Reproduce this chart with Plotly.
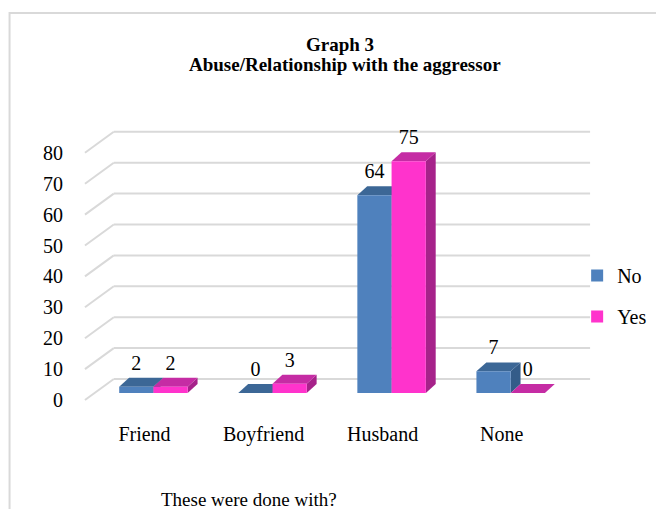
import plotly.graph_objects as go

# ---------------- data ----------------
categories = ["Friend", "Boyfriend", "Husband", "None"]
no_values = [2, 0, 64, 7]
yes_values = [2, 3, 75, 0]
series_names = ["No", "Yes"]
y_ticks = [0, 10, 20, 30, 40, 50, 60, 70, 80]
title_line1 = "Graph 3"
title_line2 = "Abuse/Relationship with the aggressor"
x_title = "These were done with?"

# ---------------- style / geometry ----------------
FONT = "Liberation Serif"
BAR_W = 0.2875          # width of each bar (category units)
DX = 0.083              # 3D depth, x direction
DY = 2.9                # 3D depth, y direction
FRONT_SHIFT = 2.27      # front floor edge below bar plane (y units)
BACK_SHIFT = 4.53       # back wall above bar plane (y units)
WALL_X0 = -0.333
WALL_X1 = 3.667
FRONT_X = -0.575
LABEL_OFF = 7.1

colors = {
    "No": {"front": "#4F81BD", "top": "#3C6796", "side": "#345C89"},
    "Yes": {"front": "#FF33CC", "top": "#C52CA4", "side": "#A6228A"},
}

OFF = 8  # page body margin of the html page
W, H = 664 - OFF, 509 - OFF
# plot area in page pixels
PX_L, PX_R, PX_T, PX_B = 80, 600, 110, 420
L, R, T, B = PX_L - OFF, W - (PX_R - OFF), PX_T - OFF, H - (PX_B - OFF)
PW, PH = PX_R - PX_L, PX_B - PX_T


def px_x(px):
    return (px - PX_L) / PW


def px_y(py):
    return (PX_B - py) / PH


xpos = list(range(len(categories)))

fig = go.Figure()

series = [("No", no_values, -BAR_W), ("Yes", yes_values, 0.0)]
for name, vals, off in series:
    fig.add_trace(go.Bar(
        x=xpos, y=vals, name=name, width=BAR_W, offset=off,
        marker=dict(color=colors[name]["front"], line=dict(width=0)),
        legendgroup=name, hoverinfo="skip",
    ))

# data labels
lab_x, lab_y, lab_t = [], [], []
for name, vals, off in series:
    for i, v in zip(xpos, vals):
        lab_x.append(i + off + BAR_W / 2)
        lab_y.append(v + LABEL_OFF)
        lab_t.append(str(v))
fig.add_trace(go.Scatter(
    x=lab_x, y=lab_y, text=lab_t, mode="text", showlegend=False,
    textfont=dict(family=FONT, size=20, color="#000000"), hoverinfo="skip",
))

shapes = []
grid_line = dict(color="#D9D9D9", width=2)
for v in y_ticks:
    shapes.append(dict(type="line", xref="x", yref="y", layer="below",
                       x0=WALL_X0, x1=WALL_X1, y0=v + BACK_SHIFT, y1=v + BACK_SHIFT,
                       line=grid_line))
    shapes.append(dict(type="line", xref="x", yref="y", layer="below",
                       x0=FRONT_X, x1=WALL_X0, y0=v - FRONT_SHIFT, y1=v + BACK_SHIFT,
                       line=grid_line))

# 3D faces of the bars
for name, vals, off in series:
    for i, v in zip(xpos, vals):
        xl = i + off
        xr = xl + BAR_W
        top = (f"M{xl},{v} L{xr},{v} L{xr + DX},{v + DY} L{xl + DX},{v + DY} Z")
        side = (f"M{xr},0 L{xr},{v} L{xr + DX},{v + DY} L{xr + DX},{DY} Z")
        if v > 0:
            shapes.append(dict(type="path", path=side, xref="x", yref="y", layer="below",
                               fillcolor=colors[name]["side"], line=dict(width=0)))
        shapes.append(dict(type="path", path=top, xref="x", yref="y", layer="below",
                           fillcolor=colors[name]["top"], line=dict(width=0)))

# outer chart frame
shapes.append(dict(type="rect", xref="paper", yref="paper",
                   x0=px_x(9), x1=px_x(700), y0=px_y(560), y1=px_y(13),
                   line=dict(color="#D9D9D9", width=2), fillcolor="rgba(0,0,0,0)"))

annotations = [
    dict(text=f"<b>{title_line1}</b>", x=px_x(342), y=px_y(44), xref="paper", yref="paper",
         showarrow=False, xanchor="center", yanchor="middle",
         font=dict(family=FONT, size=19, color="#000000")),
    dict(text=f"<b>{title_line2}</b>", x=px_x(347), y=px_y(65), xref="paper", yref="paper",
         showarrow=False, xanchor="center", yanchor="middle",
         font=dict(family=FONT, size=19, color="#000000")),
    dict(text=x_title, x=px_x(250), y=px_y(499), xref="paper", yref="paper",
         showarrow=False, xanchor="center", yanchor="middle",
         font=dict(family=FONT, size=19, color="#000000")),
]

y_lo = -(PX_B - 393) / 3.09
y_hi = y_lo + PH / 3.09

fig.update_layout(
    width=W, height=H,
    margin=dict(l=L, r=R, t=T, b=B, pad=0),
    paper_bgcolor="#FFFFFF", plot_bgcolor="rgba(0,0,0,0)",
    barmode="overlay",
    shapes=shapes, annotations=annotations,
    font=dict(family=FONT, size=20, color="#000000"),
    showlegend=True,
    legend=dict(x=px_x(581), y=px_y(296), xanchor="left", yanchor="middle",
                xref="paper", yref="paper",
                font=dict(family=FONT, size=20, color="#000000"),
                tracegroupgap=12, bgcolor="rgba(0,0,0,0)"),
    xaxis=dict(range=[(PX_L - 154) / 120, (PX_R - 154) / 120],
               tickmode="array", tickvals=[i - 0.075 for i in xpos], ticktext=categories,
               showgrid=False, zeroline=False, showline=False, ticks="",
               tickfont=dict(family=FONT, size=20, color="#000000"),
               fixedrange=True),
    yaxis=dict(range=[y_lo, y_hi],
               tickmode="array", tickvals=[v - FRONT_SHIFT for v in y_ticks],
               ticktext=[str(v) for v in y_ticks],
               showgrid=False, zeroline=False, showline=False, ticks="",
               ticklabelstandoff=16,
               tickfont=dict(family=FONT, size=20, color="#000000"),
               fixedrange=True),
)

fig.write_html("out.html")
